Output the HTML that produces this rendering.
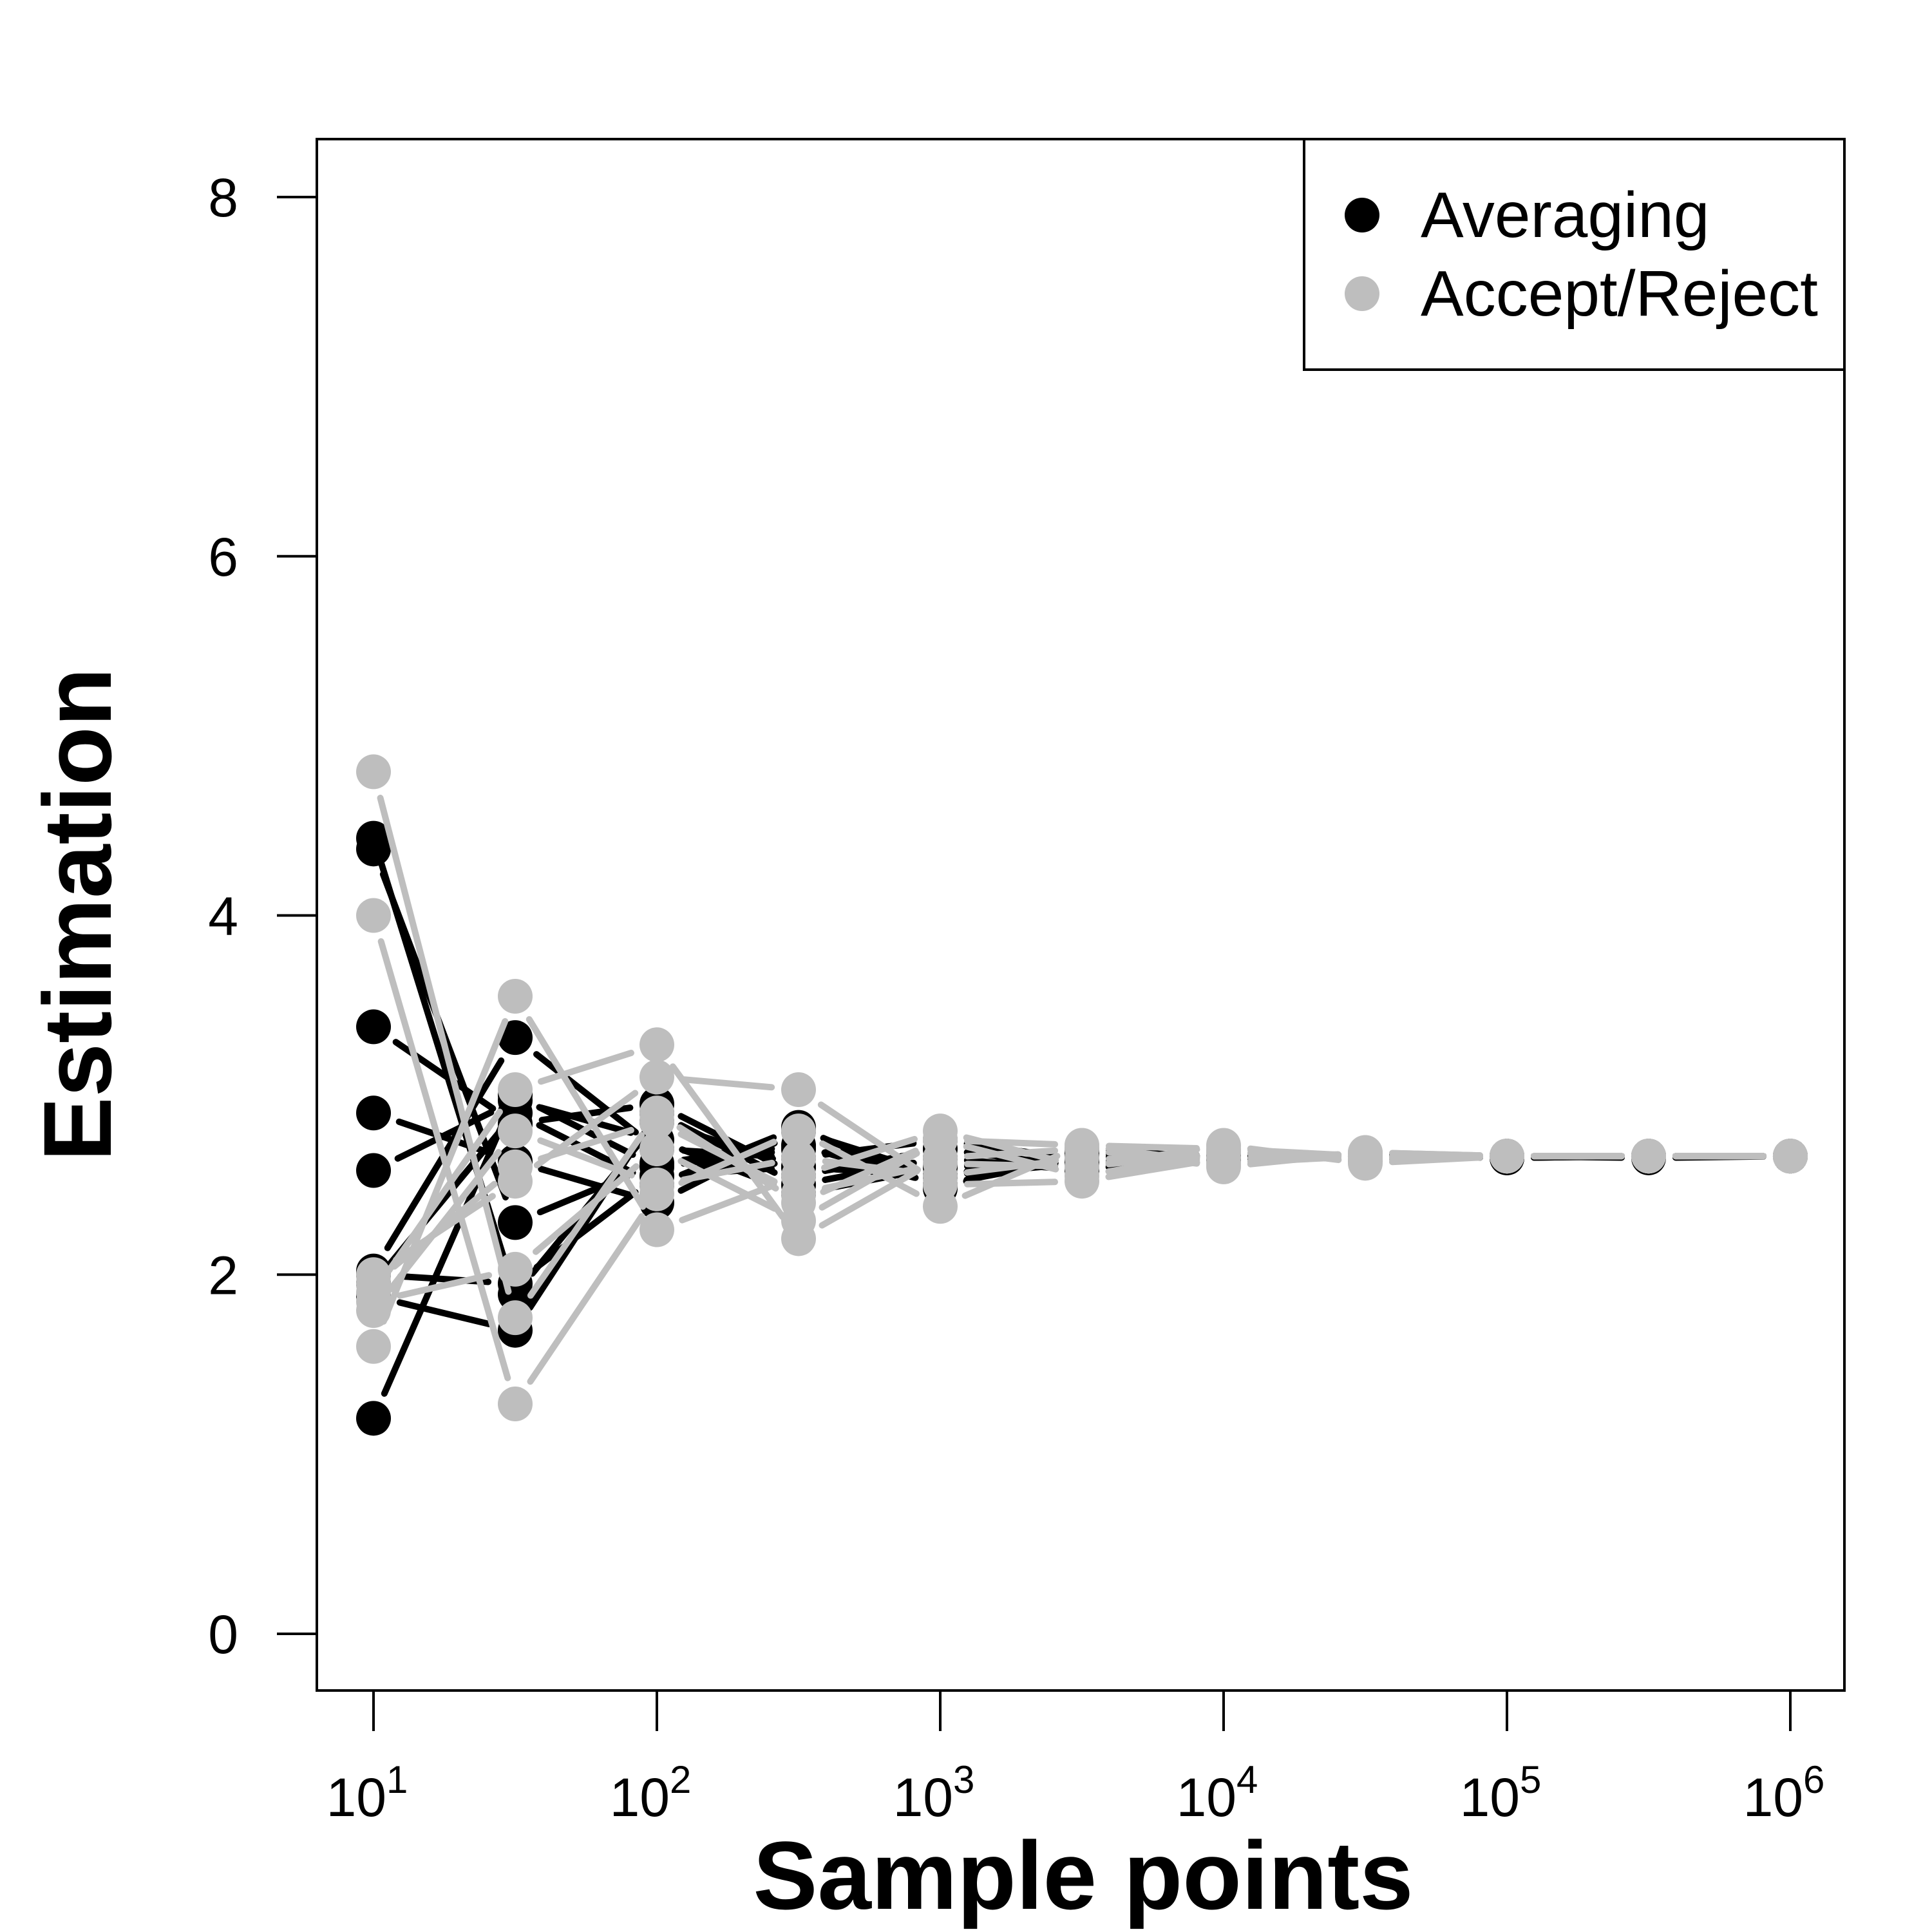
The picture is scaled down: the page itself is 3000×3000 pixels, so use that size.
<!DOCTYPE html>
<html><head><meta charset="utf-8"><style>
html,body{margin:0;padding:0;background:#fff;}
svg{display:block;font-family:"Liberation Sans",Arial,sans-serif;}
</style></head><body>
<svg id="chart" width="3000" height="3000" viewBox="0 0 3000 3000" xmlns="http://www.w3.org/2000/svg">
<rect x="0" y="0" width="3000" height="3000" fill="#fff"/>
<g id="marks"></g>
<rect x="492" y="216" width="2372" height="2409" fill="none" stroke="#000" stroke-width="4"/>
<g id="axes"></g>
<text x="1682" y="2964" font-size="150" font-weight="bold" text-anchor="middle">Sample points</text>
<text transform="translate(172,1420) rotate(-90)" font-size="150" font-weight="bold" text-anchor="middle">Estimation</text>
<g>
<rect x="2025" y="216" width="839" height="358" fill="#fff" stroke="#000" stroke-width="4"/>
<circle cx="2115" cy="334" r="27" fill="#000"/>
<text x="2206" y="368" font-size="100">Averaging</text>
<circle cx="2115" cy="456" r="27" fill="#bebebe"/>
<text x="2206" y="490" font-size="100">Accept/Reject</text>
</g>
</svg>
<script>
const sampleExponents = [1,1.5,2,2.5,3,3.5,4,4.5,5,5.5,6];
const averagingRuns = [
 [4.43,1.89,2.85,2.6,2.55,2.62,2.65,2.66,2.65,2.66,2.66],
 [4.37,2.29,2.62,2.72,2.5,2.65,2.67,2.64,2.66,2.66,2.66],
 [3.38,2.84,2.95,2.55,2.7,2.6,2.66,2.67,2.66,2.65,2.66],
 [2.9,2.63,2.4,2.8,2.55,2.68,2.64,2.66,2.65,2.66,2.66],
 [2.58,2.97,2.75,2.45,2.6,2.62,2.67,2.65,2.66,2.66,2.66],
 [2.02,3.32,2.7,2.65,2.75,2.64,2.66,2.66,2.66,2.66,2.66],
 [1.95,2.9,2.5,2.82,2.48,2.7,2.65,2.67,2.66,2.66,2.66],
 [1.88,1.69,2.9,2.5,2.65,2.58,2.68,2.65,2.66,2.66,2.66],
 [1.2,3.0,2.6,2.7,2.6,2.66,2.66,2.66,2.66,2.66,2.66],
 [2.0,1.95,2.55,2.6,2.55,2.63,2.65,2.66,2.66,2.66,2.66]
];
const acceptRejectRuns = [
 [4.8,1.76,2.9,2.4,2.75,2.55,2.68,2.64,2.66,2.66,2.66],
 [4.0,1.28,2.45,2.8,2.38,2.72,2.62,2.68,2.66,2.66,2.66],
 [1.6,3.55,2.25,2.55,2.8,2.6,2.72,2.62,2.66,2.66,2.66],
 [1.9,3.03,3.28,2.2,2.65,2.7,2.6,2.68,2.66,2.66,2.66],
 [2.0,2.52,3.1,3.03,2.5,2.52,2.65,2.65,2.66,2.66,2.66],
 [1.85,2.03,2.7,2.3,2.75,2.72,2.7,2.66,2.66,2.66,2.66],
 [1.8,2.8,2.5,2.65,2.55,2.65,2.62,2.66,2.66,2.66,2.66],
 [1.95,2.6,2.85,2.45,2.62,2.6,2.68,2.65,2.66,2.66,2.66]
];
const yTicks = [0,2,4,6,8];
const xTickExps = [1,2,3,4,5,6];

const NS = "http://www.w3.org/2000/svg";
function xs(e){ return 580 + (e-1)*440; }
function ys(v){ return 2537 - v*(2537-306)/8; }
function mk(tag, attrs, parent){ const el=document.createElementNS(NS,tag); for(const k in attrs) el.setAttribute(k,attrs[k]); parent.appendChild(el); return el; }

const marks = document.getElementById('marks');
const axes = document.getElementById('axes');
function drawRuns(runs, color, name){
  runs.forEach((run, ri) => {
    const g = mk('g', {}, marks);
    
    
    for(let i=0;i<run.length-1;i++){
      const x1=xs(sampleExponents[i]), y1=ys(run[i]), x2=xs(sampleExponents[i+1]), y2=ys(run[i+1]);
      const dx=x2-x1, dy=y2-y1, L=Math.hypot(dx,dy), gap=42;
      if(L>2*gap){
        const ux=dx/L, uy=dy/L;
        const ln = mk('line', {x1:x1+ux*gap, y1:y1+uy*gap, x2:x2-ux*gap, y2:y2-uy*gap, stroke:color, 'stroke-width':10, 'stroke-linecap':'round'}, g);
        
        
      }
    }
    run.forEach((v,i) => {
      const c = mk('circle', {cx:xs(sampleExponents[i]), cy:ys(v), r:27, fill:color}, g);
      
      
    });
  });
}
drawRuns(averagingRuns, '#000', 'averaging');
drawRuns(acceptRejectRuns, '#bebebe', 'accept-reject');

const yAxis = mk('g', {}, axes);


yTicks.forEach(t => {
  const tk = mk('line', {x1:430, y1:ys(t), x2:492, y2:ys(t), stroke:'#000', 'stroke-width':4}, yAxis);
  
  
  const lb = mk('text', {x:370, y:ys(t)+30, 'font-size':84, 'text-anchor':'end'}, yAxis);
  lb.textContent = t;
  
  
});

const xAxis = mk('g', {}, axes);


xTickExps.forEach(e => {
  const tk = mk('line', {x1:xs(e), y1:2625, x2:xs(e), y2:2688, stroke:'#000', 'stroke-width':4}, xAxis);
  
  
  const lb = mk('text', {x:xs(e)-10, y:2820, 'font-size':84, 'text-anchor':'middle'}, xAxis);
  lb.textContent = '10';
  const sup = mk('tspan', {dy:-36, 'font-size':60}, lb);
  sup.textContent = e;
  
  
});
</script>
</body></html>
